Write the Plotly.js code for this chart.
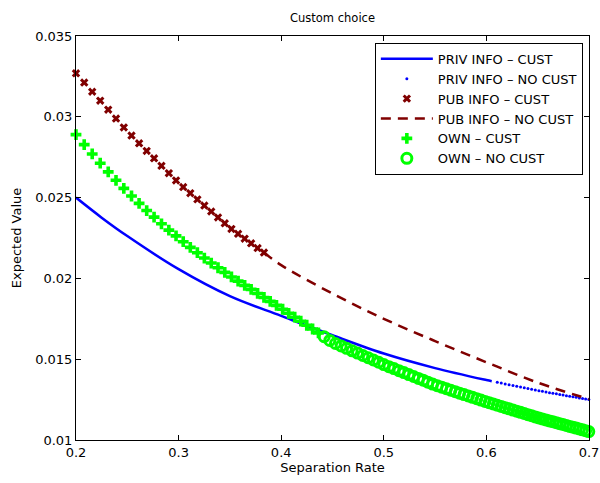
<!DOCTYPE html>
<html>
<head>
<meta charset="utf-8">
<script src="https://cdn.plot.ly/plotly-3.0.1.min.js"></script>
<style>
  html, body { margin: 0; padding: 0; background: #fff; }
  #chart { width: 600px; height: 483px; }
</style>
</head>
<body>
<div id="chart"></div>
<script>
const separationRate = [
  0.2000,0.2080,0.2158,0.2236,0.2314,0.2390,0.2466,0.2541,0.2615,0.2689,
  0.2761,0.2833,0.2905,0.2975,0.3045,0.3114,0.3183,0.3251,0.3318,0.3384,
  0.3450,0.3515,0.3580,0.3644,0.3707,0.3770,0.3832,0.3893,0.3954,0.4014,
  0.4073,0.4132,0.4191,0.4249,0.4306,0.4363,0.4419,0.4474,0.4529,0.4584,
  0.4637,0.4691,0.4744,0.4796,0.4848,0.4899,0.4950,0.5000,0.5050,0.5099,
  0.5148,0.5196,0.5244,0.5291,0.5338,0.5384,0.5430,0.5476,0.5521,0.5565,
  0.5610,0.5653,0.5697,0.5739,0.5782,0.5824,0.5865,0.5906,0.5947,0.5987,
  0.6027,0.6067,0.6106,0.6145,0.6183,0.6221,0.6259,0.6296,0.6333,0.6369,
  0.6405,0.6441,0.6477,0.6512,0.6546,0.6581,0.6615,0.6648,0.6682,0.6715,
  0.6747,0.6780,0.6812,0.6844,0.6875,0.6906,0.6937,0.6967,0.6998
];

// PRIV INFO – CUST (solid line)
const privCustX = [0.200,0.225,0.250,0.300,0.350,0.400,0.450,0.500,0.550,0.600,0.6052];
const privCustY = [0.02500,0.02376,0.02262,0.02057,0.01890,0.01768,0.01648,0.01535,0.01445,0.01371,0.01364];

// PRIV INFO – NO CUST (dots), samples 72..98
const privNoCustY = [
  0.01357,0.01352,0.01347,0.01342,0.01337,0.01333,0.01328,0.01323,0.01318,0.01314,
  0.01309,0.01305,0.01301,0.01297,0.01293,0.01289,0.01286,0.01282,0.01278,0.01274,
  0.01271,0.01267,0.01264,0.01260,0.01257,0.01254,0.01251
];

// PUB INFO – CUST (x markers), samples 0..26
const pubCustY = [
  0.03269,0.03212,0.03155,0.03100,0.03044,0.02989,0.02934,0.02884,0.02836,0.02789,
  0.02743,0.02697,0.02651,0.02606,0.02565,0.02527,0.02489,0.02451,0.02414,0.02377,
  0.02341,0.02306,0.02276,0.02246,0.02217,0.02188,0.02160
];

// PUB INFO – NO CUST (dashed line)
const pubNoCustX = [0.3832,0.400,0.450,0.500,0.550,0.600,0.650,0.700];
const pubNoCustY = [0.02160,0.02082,0.01906,0.01750,0.01612,0.01481,0.01355,0.01253];

// OWN – CUST (+ markers), samples 0..35
const ownCustY = [
  0.02890,0.02828,0.02770,0.02713,0.02659,0.02607,0.02557,0.02510,0.02464,0.02420,
  0.02379,0.02338,0.02299,0.02263,0.02227,0.02192,0.02159,0.02126,0.02095,0.02066,
  0.02037,0.02009,0.01983,0.01957,0.01932,0.01907,0.01882,0.01858,0.01833,0.01809,
  0.01784,0.01760,0.01735,0.01710,0.01687,0.01663
];

// OWN – NO CUST (open circles), samples 36..98
const ownNoCustY = [
  0.01639,0.01616,0.01597,0.01582,0.01567,0.01552,0.01538,0.01523,0.01509,0.01495,
  0.01481,0.01467,0.01454,0.01442,0.01429,0.01417,0.01405,0.01393,0.01381,0.01370,
  0.01358,0.01346,0.01336,0.01327,0.01317,0.01308,0.01299,0.01290,0.01281,0.01273,
  0.01264,0.01256,0.01247,0.01239,0.01231,0.01223,0.01215,0.01208,0.01200,0.01193,
  0.01185,0.01178,0.01171,0.01164,0.01157,0.01150,0.01143,0.01136,0.01130,0.01124,
  0.01118,0.01113,0.01107,0.01101,0.01096,0.01090,0.01084,0.01079,0.01074,0.01068,
  0.01063,0.01058,0.01052
];

const xTicks = [0.2,0.3,0.4,0.5,0.6,0.7];
const xTickText = ['0.2','0.3','0.4','0.5','0.6','0.7'];
const yTicks = [0.01,0.015,0.02,0.025,0.03,0.035];
const yTickText = ['0.01','0.015','0.02','0.025','0.03','0.035'];

const FONT = 'DejaVu Sans, Liberation Sans, Arial, sans-serif';

const traces = [
  {
    name: 'PRIV INFO – CUST', x: privCustX, y: privCustY,
    mode: 'lines', line: {color: '#0000ff', width: 2.5, shape: 'spline'}
  },
  {
    name: 'PRIV INFO – NO CUST', x: separationRate.slice(72, 99), y: privNoCustY,
    mode: 'markers', marker: {color: '#0000ff', size: 3, symbol: 'circle'}, cliponaxis: false
  },
  {
    name: 'PUB INFO – CUST', x: separationRate.slice(0, 27), y: pubCustY,
    mode: 'markers', marker: {color: '#800000', size: 7.5, symbol: 'x'}, cliponaxis: false
  },
  {
    name: 'PUB INFO – NO CUST', x: pubNoCustX, y: pubNoCustY,
    mode: 'lines', line: {color: '#800000', width: 2.5, dash: '10px,7px', shape: 'spline'}
  },
  {
    name: 'OWN – CUST', x: separationRate.slice(0, 36), y: ownCustY,
    mode: 'markers', marker: {color: '#00ff00', size: 9, symbol: 'cross'}, cliponaxis: false
  },
  {
    name: 'OWN – NO CUST', x: separationRate.slice(36, 99), y: ownNoCustY,
    mode: 'markers',
    marker: {color: '#00ff00', size: 10, symbol: 'circle-open', line: {color: '#00ff00', width: 3}},
    cliponaxis: false
  }
];

const axisCommon = {
  showline: true, linecolor: '#000', linewidth: 1, mirror: 'ticks',
  ticks: 'inside', ticklen: 5, tickwidth: 1, tickcolor: '#000',
  showgrid: false, zeroline: false,
  tickfont: {family: FONT, size: 13, color: '#000'}
};

const layout = {
  width: 600, height: 483,
  margin: {l: 76, r: 11, t: 36, b: 43},
  paper_bgcolor: '#fff', plot_bgcolor: '#fff',
  font: {family: FONT, color: '#000'},
  showlegend: true,
  title: {
    text: 'Custom choice', font: {family: FONT, size: 11.5, color: '#000'},
    x: 0.5, xref: 'paper', y: 1 - 18/483, yref: 'container', yanchor: 'middle'
  },
  xaxis: Object.assign({}, axisCommon, {
    range: [0.2, 0.7], tickvals: xTicks, ticktext: xTickText,
    title: {text: 'Separation Rate', font: {family: FONT, size: 13, color: '#000'}, standoff: 4}
  }),
  yaxis: Object.assign({}, axisCommon, {
    range: [0.01, 0.035], tickvals: yTicks, ticktext: yTickText,
    title: {text: 'Expected Value', font: {family: FONT, size: 13, color: '#000'}, standoff: 10}
  }),
  legend: {
    x: 0.988, xanchor: 'right', y: 0.983, yanchor: 'top',
    bgcolor: '#fff', bordercolor: '#000', borderwidth: 1,
    font: {family: FONT, size: 13, color: '#000'},
    itemwidth: 52, tracegroupgap: 0
  }
};

Plotly.newPlot('chart', traces, layout, {staticPlot: true, displayModeBar: false});
</script>
</body>
</html>
